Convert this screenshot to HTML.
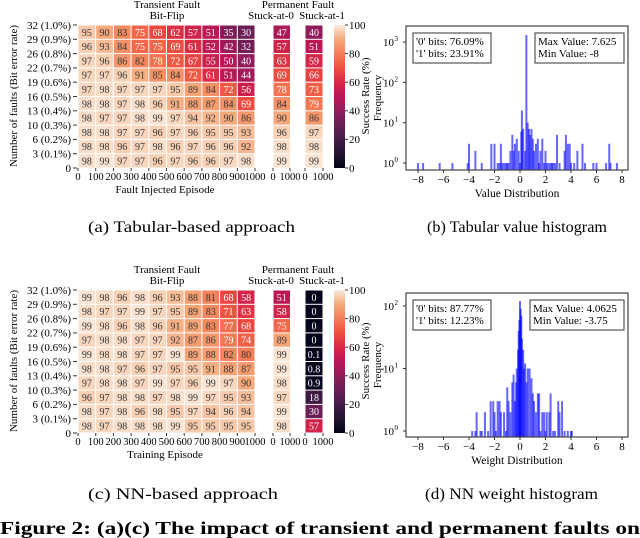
<!DOCTYPE html>
<html><head><meta charset="utf-8"><style>
html,body{margin:0;padding:0;background:#fff;width:640px;height:538px;overflow:hidden}
svg{display:block;font-family:"Liberation Serif",serif}
</style></head><body>
<svg id="fig" width="640" height="538" viewBox="0 0 640 538">
<defs>
<linearGradient id="rocket" x1="0" y1="1" x2="0" y2="0">
<stop offset="0" stop-color="#03051A"/><stop offset="0.1" stop-color="#221331"/><stop offset="0.2" stop-color="#451C47"/><stop offset="0.3" stop-color="#691F55"/><stop offset="0.4" stop-color="#921C5B"/><stop offset="0.5" stop-color="#B91657"/><stop offset="0.6" stop-color="#D92847"/><stop offset="0.7" stop-color="#ED503E"/><stop offset="0.8" stop-color="#F47D57"/><stop offset="0.9" stop-color="#F6A97A"/><stop offset="1" stop-color="#FAEBDD"/>
</linearGradient>
</defs>
<text x="88" y="232" font-size="16" textLength="207" lengthAdjust="spacingAndGlyphs">(a)  Tabular-based approach</text>
<text x="427" y="232" font-size="16" textLength="180" lengthAdjust="spacingAndGlyphs">(b)  Tabular value histogram</text>
<text x="88" y="499" font-size="16" textLength="190" lengthAdjust="spacingAndGlyphs">(c)  NN-based approach</text>
<text x="425" y="499" font-size="16" textLength="173" lengthAdjust="spacingAndGlyphs">(d)  NN weight histogram</text>
<text x="0" y="534" font-size="18" font-weight="bold" textLength="640" lengthAdjust="spacingAndGlyphs">Figure 2: (a)(c) The impact of transient and permanent faults on</text>
</svg>
<script>
const rowLabels=["32 (1.0%)","29 (0.9%)","26 (0.8%)","22 (0.7%)","19 (0.6%)","16 (0.5%)","13 (0.4%)","10 (0.3%)","6 (0.2%)","3 (0.1%)"];
const colTicks=["0","100","200","300","400","500","600","700","800","900","1000"];
const cbTicks=[0,20,40,60,80,100];
const heatA=[[95,90,83,75,68,62,57,51,35,30],[96,93,84,75,75,69,61,52,42,32],[97,96,86,82,78,72,67,55,50,40],[97,97,96,91,85,84,72,61,51,44],[97,98,97,97,97,95,89,84,72,56],[98,98,97,98,96,91,88,87,84,69],[98,97,97,98,99,97,94,92,90,86],[98,98,97,97,96,97,96,95,95,93],[98,98,96,97,98,96,97,96,96,92],[98,99,97,97,96,97,96,96,97,98]];
const stuck0A=[47,57,63,69,78,84,90,96,98,99];
const stuck1A=[40,51,59,66,73,79,86,97,98,99];
const heatC=[[99,98,96,98,96,93,88,81,68,58],[98,97,97,99,97,95,89,83,71,63],[99,98,96,98,96,91,89,83,77,68],[97,98,98,97,97,92,87,86,79,74],[99,98,98,97,97,99,89,88,82,80],[98,98,97,96,97,95,95,91,88,87],[97,98,98,97,99,97,96,99,97,90],[96,97,98,98,97,98,99,97,95,93],[98,97,98,96,98,95,97,94,96,94],[98,97,98,98,98,99,95,95,95,95]];
const stuck0C=[51,58,75,89,99,99,98,97,99,98];
const stuck1C=[0,0,0,0,0.1,0.8,0.9,18,30,57];
const histBVals=[-8,-7.6,-6.3,-5.3,-4.1,-4,-3.5,-3,-2.25,-2,-1.75,-1.6,-1.5,-1.4,-1.25,-1.1,-1,-0.9,-0.75,-0.6,-0.5,-0.4,-0.25,-0.1,0,0.1,0.15,0.25,0.4,0.5,0.6,0.7,0.8,0.9,1,1.1,1.25,1.4,1.5,1.6,1.75,1.9,2,2.1,2.25,2.4,2.5,2.6,2.75,2.9,3.1,3.5,3.6,3.75,3.9,4,4.25,4.5,4.9,5.1,5.75,6,6.75,7,7.1,7.6];
const histBCounts=[1,1,1,1,1,3,2,1,3,3,1,1,3,1,1,1,1,1,2,5,2,3,4,2,1,6,20,7,2,1500,10,7,5,7,4,2,3,4,1,2,4,1,2,1,1,1,1,1,1,5,1,2,5,3,3,1,1,2,3,1,1,1,1,3,1,1];
const histDVals=[-3.75,-3.5,-3.4,-3.1,-3,-2.75,-2.5,-2.3,-2.1,-2,-1.9,-1.75,-1.6,-1.5,-1.25,-1.1,-1,-0.9,-0.75,-0.6,-0.5,-0.4,-0.3,-0.25,-0.15,-0.1,-0.05,0,0.05,0.1,0.15,0.25,0.3,0.4,0.5,0.6,0.75,0.9,1,1.1,1.25,1.4,1.5,1.6,1.75,1.9,2,2.1,2.3,2.4,2.6,2.75,3,3.1,3.3,3.5,3.75,4,4.06];
const histDCounts=[1,1,2,1,1,2,1,3,3,2,1,3,3,2,2,1,5,3,2,6,8,3,6,10,20,40,60,120,90,70,30,20,10,12,6,10,10,7,4,3,2,4,4,1,2,2,1,2,2,4,1,1,3,2,3,1,1,1,1];

const NS="http://www.w3.org/2000/svg";
const svg=document.getElementById('fig');
function mk(tag,attrs,parent){const e=document.createElementNS(NS,tag);for(const k in attrs)e.setAttribute(k,attrs[k]);(parent||svg).appendChild(e);return e;}
const stops=[[0,[3,5,26]],[0.1,[34,19,49]],[0.2,[69,28,71]],[0.3,[105,31,85]],[0.4,[146,28,91]],[0.5,[185,22,87]],[0.6,[217,40,71]],[0.7,[237,80,62]],[0.8,[244,125,87]],[0.9,[246,169,122]],[1,[250,235,221]]];
function cmap(v){let t=Math.max(0,Math.min(1,v/100));for(let i=1;i<stops.length;i++){if(t<=stops[i][0]){const a=stops[i-1],b=stops[i];const f=(t-a[0])/(b[0]-a[0]);const c=a[1].map((x,j)=>Math.round(x+(b[1][j]-x)*f));return `rgb(${c})`;}}return 'rgb(250,235,221)';}

function heat(oy,data,s0,s1,xlabel,pfx){
  const x0=78,cw=17.7,rh=14.3;
  const g=mk('g',{});
  
  
  const t1=mk('text',{x:167,y:oy-17,'font-size':11,'text-anchor':'middle'},g);t1.textContent='Transient Fault';
  
  const t2=mk('text',{x:167,y:oy-6,'font-size':11,'text-anchor':'middle'},g);t2.textContent='Bit-Flip';
  
  const t3=mk('text',{x:298,y:oy-17,'font-size':11,'text-anchor':'middle'},g);t3.textContent='Permanent Fault';
  
  const t4=mk('text',{x:271,y:oy-6,'font-size':11,'text-anchor':'middle'},g);t4.textContent='Stuck-at-0';
  
  const t5=mk('text',{x:322,y:oy-6,'font-size':11,'text-anchor':'middle'},g);t5.textContent='Stuck-at-1';
  
  function cell(x,y,w,v){
    const r=mk('rect',{x:x+0.5,y:y+0.5,width:w-1,height:rh-1,fill:cmap(v)},g);
    
    const tx=mk('text',{x:x+w/2,y:y+rh/2+3.6,'font-size':10,'text-anchor':'middle',fill:v<80?'#fff':'#333'},g);
    tx.textContent=String(v);
    
  }
  data.forEach((row,i)=>row.forEach((v,j)=>cell(x0+j*cw,oy+i*rh,cw,v)));
  s0.forEach((v,i)=>cell(273,oy+i*rh,17.5,v));
  s1.forEach((v,i)=>cell(305,oy+i*rh,18,v));
  const labs=rowLabels.concat(['0']);
  labs.forEach((l,i)=>{const y=oy+i*rh;mk('line',{x1:73,x2:77,y1:y,y2:y,stroke:'#333'},g);
    const t=mk('text',{x:71,y:y+3.8,'font-size':11,'text-anchor':'end'},g);t.textContent=l;
    });
  const by=oy+10*rh;
  colTicks.forEach((l,j)=>{const x=x0+j*cw;mk('line',{x1:x,x2:x,y1:by,y2:by+3,stroke:'#333'},g);
    const t=mk('text',{x:x,y:by+12,'font-size':10.5,'text-anchor':'middle'},g);t.textContent=l;
    });
  [[273,'0'],[290,'1000'],[305,'0'],[323,'1000']].forEach(([x,l])=>{mk('line',{x1:x,x2:x,y1:by,y2:by+3,stroke:'#333'},g);
    const t=mk('text',{x:x,y:by+12,'font-size':10.5,'text-anchor':'middle'},g);t.textContent=l;
    });
  const xl=mk('text',{x:165,y:by+25,'font-size':11,'text-anchor':'middle'},g);xl.textContent=xlabel;
  
  const yl=mk('text',{x:0,y:0,'font-size':11,'text-anchor':'middle',transform:`translate(17,${oy+71}) rotate(-90)`},g);yl.textContent='Number of faults (Bit error rate)';
  
  const cb=mk('rect',{x:334,y:oy,width:11,height:by-oy,fill:'url(#rocket)'},g);
  
  cbTicks.forEach(v=>{const y=by-(by-oy)*v/100;mk('line',{x1:345,x2:348,y1:y,y2:y,stroke:'#333'},g);
    const t=mk('text',{x:349,y:y+3.8,'font-size':11},g);t.textContent=v;
    });
  const cl=mk('text',{x:0,y:0,'font-size':11,'text-anchor':'middle',transform:`translate(369,${oy+71}) rotate(-90)`},g);cl.textContent='Success Rate (%)';
  
}
heat(25,heatA,stuck0A,stuck1A,'Fault Injected Episode','tabular');
heat(290,heatC,stuck0C,stuck1C,'Training Episode','nn');

function hist(top,bot,dec0y,pxDec,decs,vals,counts,xlabel,leg1,leg2,pfx){
  const L=406,R=628;
  const xs=v=>418+(v+8)*12.75;
  const ys=c=>dec0y-Math.log10(c)*pxDec;
  const g=mk('g',{});
  
  
  vals.forEach((v,i)=>{const y=ys(counts[i]);
    const b=mk('rect',{x:xs(v)-1,y:y,width:2,height:bot-y,fill:'rgba(0,0,255,0.6)'},g);
    });
  mk('rect',{x:L,y:top,width:R-L,height:bot-top,fill:'none',stroke:'#444','stroke-width':1.2},g);
  for(let v=-8;v<=8;v+=2){const x=xs(v);mk('line',{x1:x,x2:x,y1:bot,y2:bot+3,stroke:'#333'},g);
    const t=mk('text',{x:x,y:bot+13,'font-size':11,'text-anchor':'middle'},g);t.textContent=(v<0?'\u2212'+(-v):v);
    }
  for(let d=0;d<decs;d++){const y=ys(Math.pow(10,d));mk('line',{x1:L-3,x2:L,y1:y,y2:y,stroke:'#333'},g);
    const t=mk('text',{x:L-12,y:y+4,'font-size':11,'text-anchor':'end'},g);t.textContent='10';
    
    const s=mk('text',{x:L-11.5,y:y-1,'font-size':7},g);s.textContent=d;
    }
  const xl=mk('text',{x:517,y:bot+27,'font-size':11.5,'text-anchor':'middle'},g);xl.textContent=xlabel;
  
  const yl=mk('text',{x:0,y:0,'font-size':11,'text-anchor':'middle',transform:`translate(381,${(top+bot)/2}) rotate(-90)`},g);yl.textContent='Frequency';
  
  function box(x,y,w,lines,name){const r=mk('rect',{x:x,y:y,width:w,height:30,fill:'#fff',stroke:'#555','stroke-width':1.2},g);
    
    lines.forEach((l,i)=>{const t=mk('text',{x:x+3,y:y+12+i*12,'font-size':11},g);t.textContent=l;
      });}
  box(413,top+7,78,leg1,'bits-legend');
  box(leg2[2],top+7,628-4-leg2[2],leg2.slice(0,2),'range-legend');
}
hist(26,170,163,40.3,4,histBVals,histBCounts,'Value Distribution',["'0' bits: 76.09%","'1' bits: 23.91%"],["Max Value: 7.625","Min Value: -8",535],'value');
hist(293,437,431,62.5,3,histDVals,histDCounts,'Weight Distribution',["'0' bits: 87.77%","'1' bits: 12.23%"],["Max Value: 4.0625","Min Value: -3.75",530],'weight');
</script>
</body></html>
